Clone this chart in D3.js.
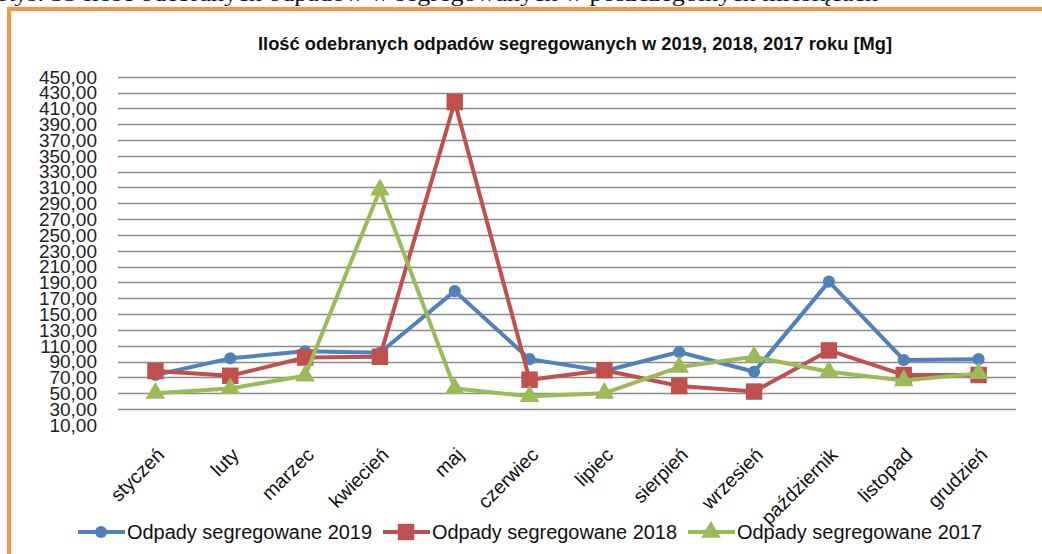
<!DOCTYPE html>
<html>
<head>
<meta charset="utf-8">
<script src="https://cdn.jsdelivr.net/npm/d3@7"></script>
<style>
  body { margin: 0; background: #fff; }
  svg { display: block; }
  .tick-label { font-family: "Liberation Sans", Arial, sans-serif; font-size: 19px; fill: #222; }
  .month-label { font-family: "Liberation Sans", Arial, sans-serif; font-size: 19.5px; fill: #111; }
  .legend-label { font-family: "Liberation Sans", Arial, sans-serif; font-size: 20px; fill: #111; }
  .title { font-family: "Liberation Sans", Arial, sans-serif; font-size: 18px; font-weight: bold; fill: #111; }
  .caption { font-family: "Liberation Serif", "Times New Roman", serif; font-size: 21px; fill: #111; }
</style>
</head>
<body>
<div id="chart"></div>
<script>
const months = ['styczeń', 'luty', 'marzec', 'kwiecień', 'maj', 'czerwiec', 'lipiec', 'sierpień', 'wrzesień', 'październik', 'listopad', 'grudzień'];
const values2019 = [73, 94, 103, 101, 179, 93, 78, 102, 77, 191, 92, 93];
const values2018 = [78, 72, 95, 96, 418, 67, 79, 59, 52, 104, 73, 73];
const values2017 = [50, 56, 72, 307, 56, 46, 50, 83, 96, 77, 66, 75];
const seriesNames = ['Odpady segregowane 2019', 'Odpady segregowane 2018', 'Odpady segregowane 2017'];
const yTicks = d3.range(10, 451, 20);

const config = {
  width: 1042,
  height: 554,
  plot: {left: 118, right: 1016, top: 76.7, bottom: 424.8},
  colors: ['#4F81BD', '#C0504D', '#9BBB59'],
  markers: ['circle', 'square', 'triangle']
};

const svg = d3.select('#chart').append('svg')
    .attr('width', config.width)
    .attr('height', config.height);

// caption of the figure, cut off at the top of the page
svg.append('text')
    .attr('class', 'caption')
    .attr('x', -2)
    .attr('y', 1)
    .attr('textLength', 880)
    .attr('lengthAdjust', 'spacingAndGlyphs')
    .text('Rys. 33 Ilość odebranych odpadów w segregowanych w poszczególnych miesiącach');

// orange frame around the chart
svg.append('rect')
    .attr('x', 9).attr('y', 9)
    .attr('width', 1100).attr('height', 600)
    .attr('fill', 'none')
    .attr('stroke', '#F79646')
    .attr('stroke-width', 4);

svg.append('text')
    .attr('class', 'title')
    .attr('x', 258)
    .attr('y', 50)
    .attr('textLength', 634)
    .attr('lengthAdjust', 'spacingAndGlyphs')
    .text('Ilość odebranych odpadów segregowanych w 2019, 2018, 2017 roku [Mg]');

const xScale = d3.scalePoint()
    .domain(months)
    .range([config.plot.left, config.plot.right])
    .padding(0.5);

const yScale = d3.scaleLinear()
    .domain([10, 450])
    .range([config.plot.bottom, config.plot.top]);

// gridlines (no line at the axis minimum)
svg.append('g')
  .selectAll('line')
  .data(yTicks.filter(d => d > 10))
  .join('line')
    .attr('x1', config.plot.left)
    .attr('x2', config.plot.right)
    .attr('y1', d => Math.round(yScale(d)) + 0.5)
    .attr('y2', d => Math.round(yScale(d)) + 0.5)
    .attr('stroke', '#8c8c8c')
    .attr('stroke-width', 1.3);

// y axis labels
svg.append('g')
  .selectAll('text')
  .data(yTicks)
  .join('text')
    .attr('class', 'tick-label')
    .attr('text-anchor', 'end')
    .attr('x', 97)
    .attr('y', d => yScale(d))
    .attr('dy', '0.36em')
    .text(d => d3.format('.2f')(d).replace('.', ','));

// month labels, rotated
svg.append('g')
  .selectAll('text')
  .data(months)
  .join('text')
    .attr('class', 'month-label')
    .attr('text-anchor', 'end')
    .attr('transform', d => `translate(${xScale(d) + 10},${456}) rotate(-45)`)
    .text(d => d);

const series = [values2019, values2018, values2017];

const line = d3.line()
    .x((d, i) => xScale(months[i]))
    .y(d => yScale(d));

const symbolFor = {
  circle: d3.symbol().type(d3.symbolCircle).size(115),
  square: d3.symbol().type(d3.symbolSquare).size(270),
  triangle: d3.symbol().type(d3.symbolTriangle).size(165)
};

series.forEach((values, s) => {
  const g = svg.append('g');
  g.append('path')
      .datum(values)
      .attr('fill', 'none')
      .attr('stroke', config.colors[s])
      .attr('stroke-width', 4)
      .attr('stroke-linejoin', 'round')
      .attr('d', line);
  g.selectAll('path.marker')
    .data(values)
    .join('path')
      .attr('class', 'marker')
      .attr('fill', config.colors[s])
      .attr('transform', (d, i) => `translate(${xScale(months[i])},${yScale(d)})`)
      .attr('d', symbolFor[config.markers[s]]());
});

// legend
const legendX = [78, 383, 688];
const legend = svg.append('g')
  .selectAll('g')
  .data(seriesNames)
  .join('g')
    .attr('transform', (d, i) => `translate(${legendX[i]},${532})`);

legend.append('line')
    .attr('x1', 0).attr('x2', 47)
    .attr('stroke', (d, i) => config.colors[i])
    .attr('stroke-width', 4);

legend.append('path')
    .attr('transform', 'translate(23,0)')
    .attr('fill', (d, i) => config.colors[i])
    .attr('d', (d, i) => symbolFor[config.markers[i]]());

legend.append('text')
    .attr('class', 'legend-label')
    .attr('x', 49)
    .attr('dy', '0.35em')
    .attr('textLength', 245)
    .attr('lengthAdjust', 'spacingAndGlyphs')
    .text(d => d);
</script>
</body>
</html>
